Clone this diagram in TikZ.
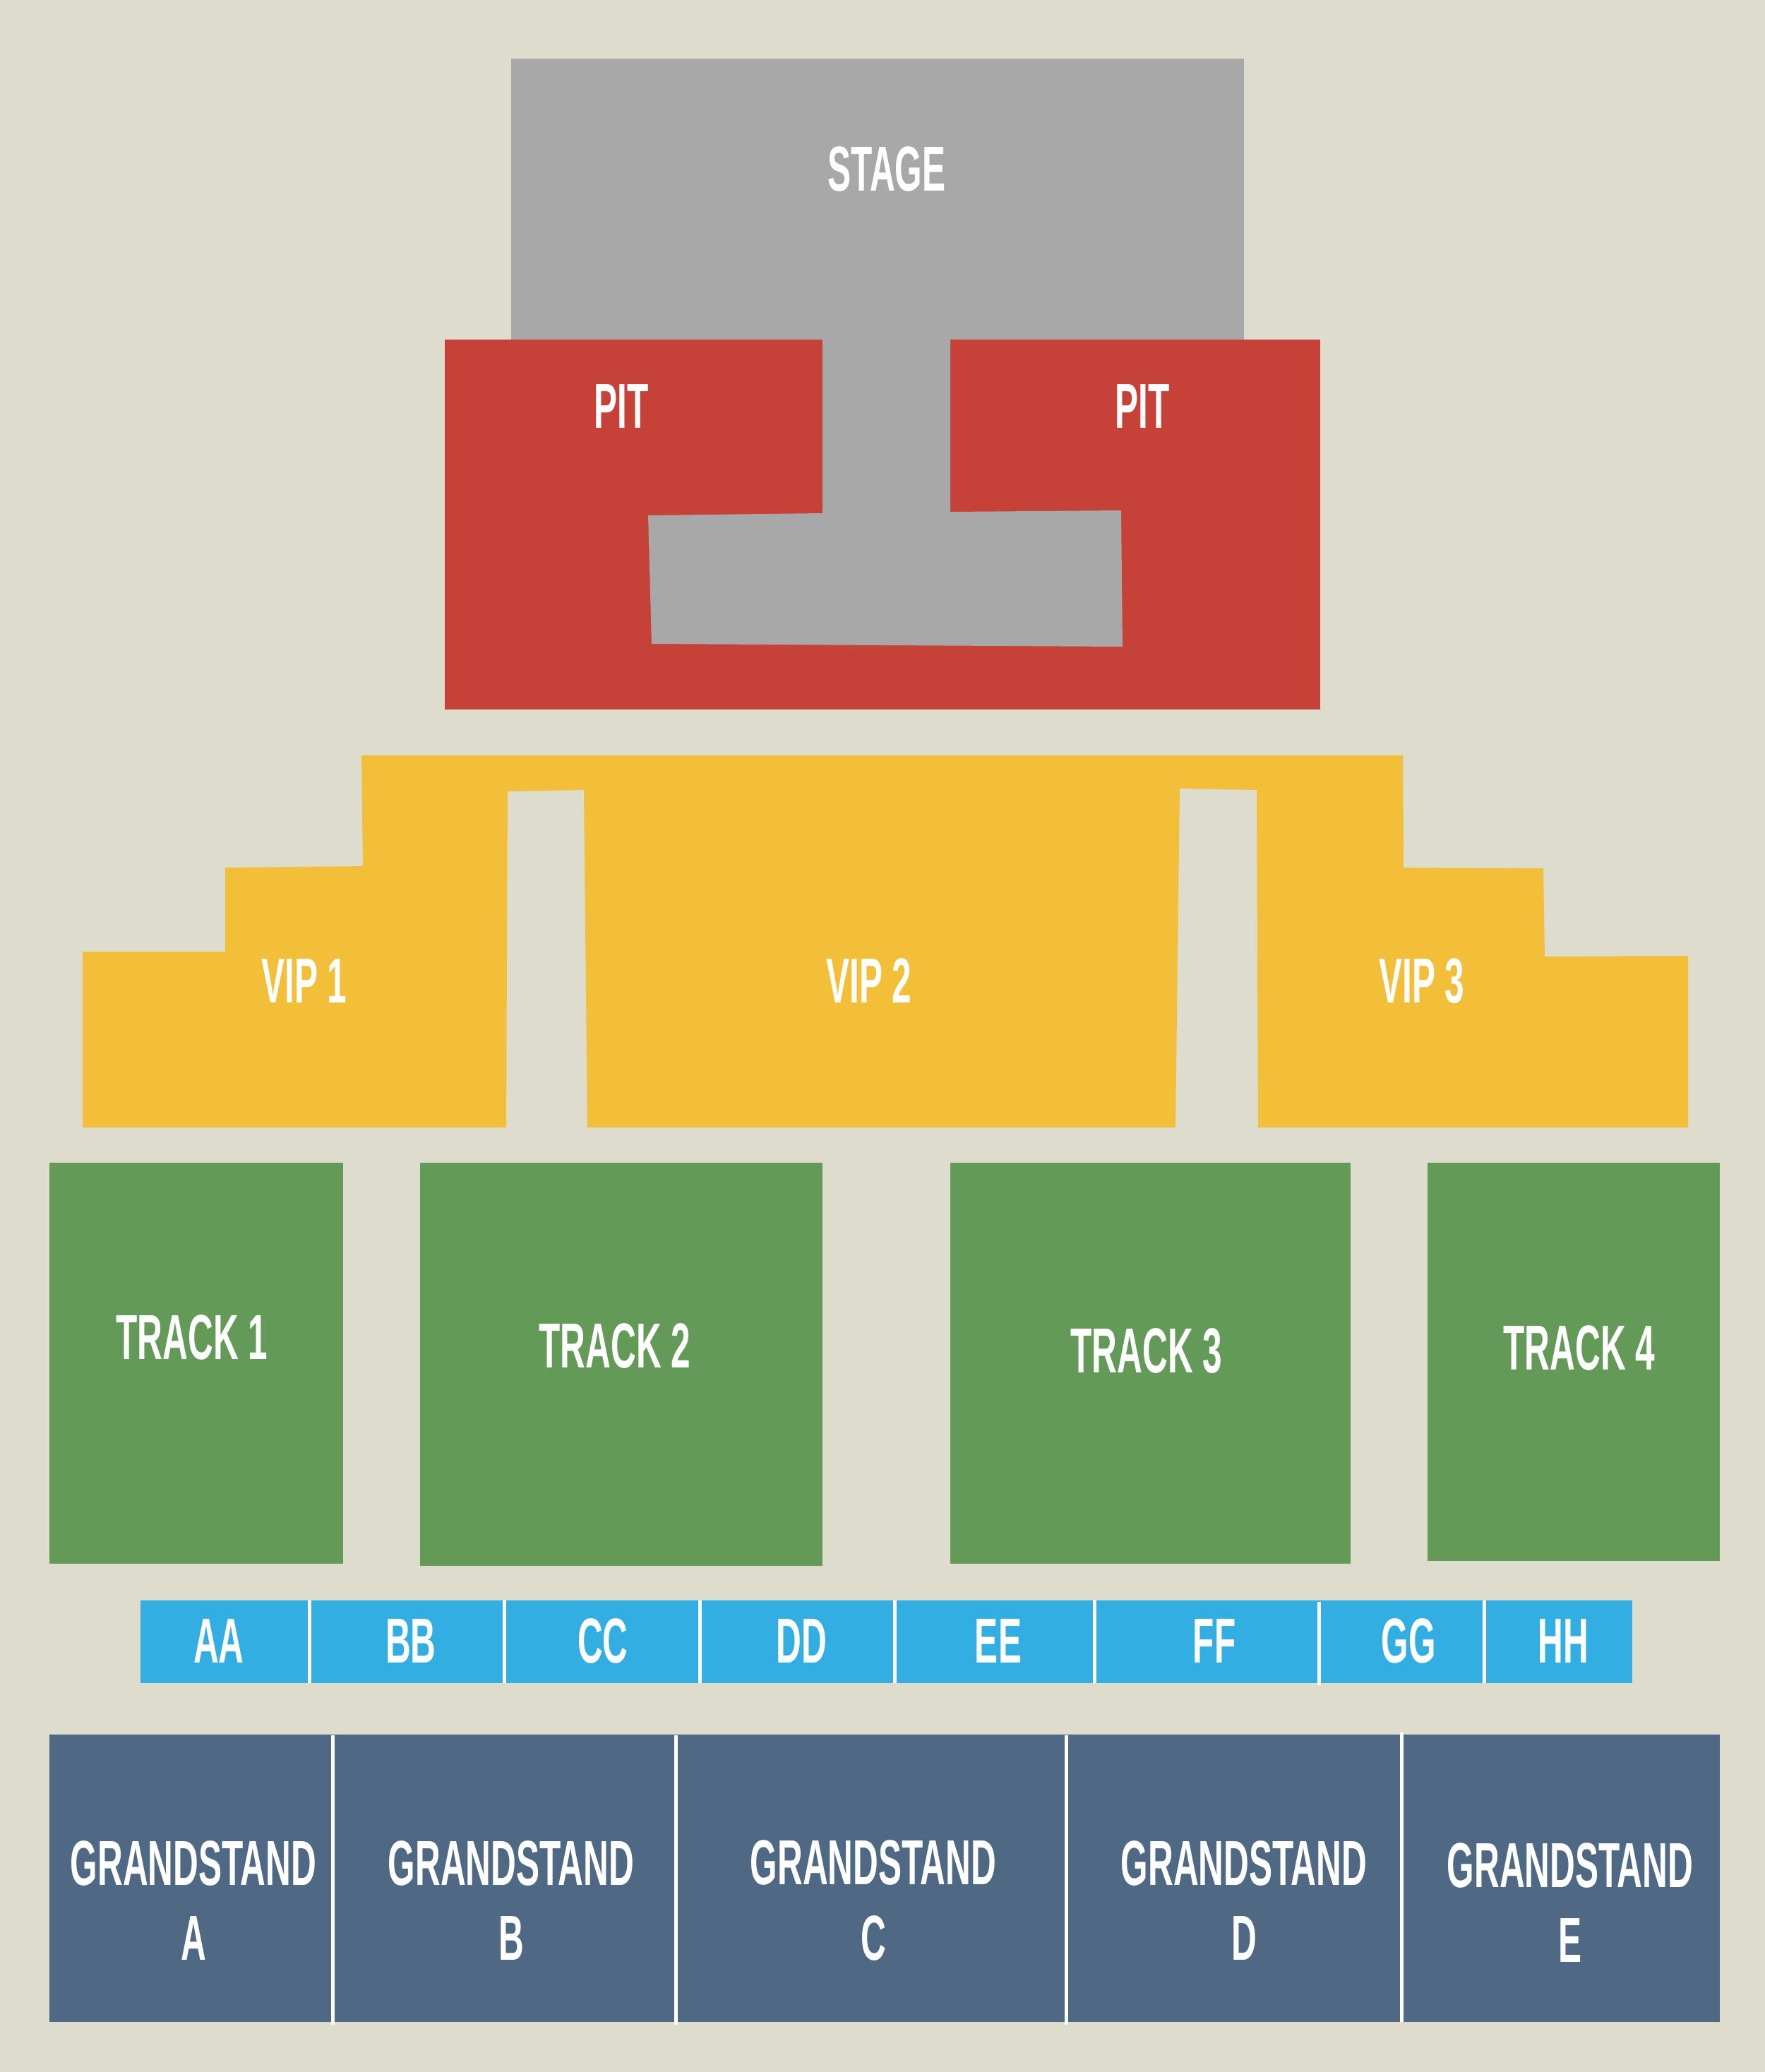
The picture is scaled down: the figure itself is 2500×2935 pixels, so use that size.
\documentclass[tikz,border=0pt]{standalone}
\usepackage{fontspec}
\newfontfamily\lblfont[FakeStretch=0.55]{Liberation Sans}
\definecolor{bgc}{HTML}{DEDCCD}
\definecolor{stagec}{HTML}{A8A8A8}
\definecolor{pitc}{HTML}{C64238}
\definecolor{vipc}{HTML}{F3BE38}
\definecolor{trackc}{HTML}{639A57}
\definecolor{seatc}{HTML}{33AEE2}
\definecolor{grandc}{HTML}{4F6984}
\begin{document}
\begin{tikzpicture}[x=0.01cm,y=-0.01cm,
  lbl/.style={text=white, inner sep=0pt, anchor=base,
    font=\lblfont\bfseries\fontsize{25.6}{30.2}\selectfont},
  lbl2/.style={lbl, anchor=center, align=center},
  divider/.style={draw=white, line width=0.05cm}]
\useasboundingbox (0,0) rectangle (2500,2935);
\fill[bgc] (0,0) rectangle (2500,2935);
% stage and pit
\fill[stagec] (724,83) rectangle (1762,481);
\fill[pitc] (630,481) rectangle (1870,1005);
\fill[stagec] (1165,478) -- (1346,478) -- (1346,725) -- (1588,723) -- (1590,916)
  -- (923,912) -- (918,730) -- (1165,727) -- cycle;
\node[lbl] (stage) at (1256,270) {STAGE};
\node[lbl] (pit1) at (880,606) {PIT};
\node[lbl] (pit2) at (1618,606) {PIT};
% VIP
\fill[vipc] (117,1597) -- (117,1348) -- (319,1348) -- (319,1229) -- (514,1227)
  -- (512,1070) -- (1987,1070) -- (1988,1229) -- (2186,1230) -- (2188,1355)
  -- (2391,1354) -- (2391,1597) -- (1782,1597) -- (1780,1119) -- (1671,1117)
  -- (1665,1597) -- (832,1597) -- (827,1119) -- (719,1121) -- (717,1597) -- cycle;
\node[lbl] (vip1) at (431,1420) {VIP 1};
\node[lbl] (vip2) at (1231,1420) {VIP 2};
\node[lbl] (vip3) at (2014,1420) {VIP 3};
% tracks
\fill[trackc] (70,1647) rectangle (486,2215);
\fill[trackc] (595,1647) rectangle (1165,2218);
\fill[trackc] (1346,1647) rectangle (1913,2215);
\fill[trackc] (2022,1647) rectangle (2436,2211);
\node[lbl] (track1) at (272,1925) {TRACK 1};
\node[lbl] (track2) at (871,1937) {TRACK 2};
\node[lbl] (track3) at (1624,1944) {TRACK 3};
\node[lbl] (track4) at (2237,1940) {TRACK 4};
% seat row
\fill[seatc] (199,2267) rectangle (2312,2384);
\foreach \x in {438,714,991,1267,1550,2102}
  \draw[divider] (\x,2267) -- (\x,2384);
\draw[divider] (1868,2269) -- (1868,2387);
\node[lbl] (aa) at (310,2355) {AA};
\node[lbl] (bb) at (582,2355) {BB};
\node[lbl] (cc) at (854,2355) {CC};
\node[lbl] (dd) at (1135,2355) {DD};
\node[lbl] (ee) at (1414,2355) {EE};
\node[lbl] (ff) at (1720,2355) {FF};
\node[lbl] (gg) at (1995,2355) {GG};
\node[lbl] (hh) at (2214,2355) {HH};
% grandstands
\fill[grandc] (70,2457) rectangle (2436,2864);
\foreach \x in {471,957,1510}
  \draw[divider] (\x,2458) -- (\x,2868);
\draw[divider] (1985,2454) -- (1985,2864);
\node[lbl2] (gsa) at (274,2692) {GRANDSTAND\\A};
\node[lbl2] (gsb) at (724,2692) {GRANDSTAND\\B};
\node[lbl2] (gsc) at (1237,2692) {GRANDSTAND\\C};
\node[lbl2] (gsd) at (1762,2692) {GRANDSTAND\\D};
\node[lbl2] (gse) at (2224,2695) {GRANDSTAND\\E};
\end{tikzpicture}
\end{document}
